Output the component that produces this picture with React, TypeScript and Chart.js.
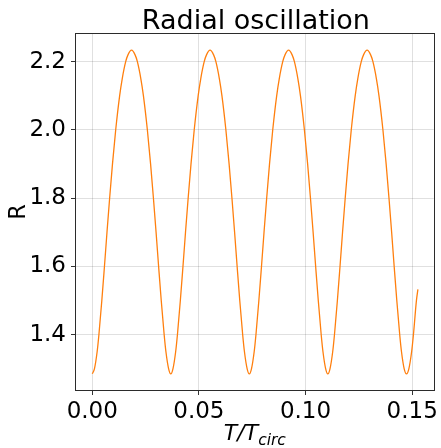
import { useEffect, useRef } from 'react';
import { Chart, registerables } from 'chart.js';

Chart.register(...registerables);

const chartTitle = 'Radial oscillation';
const xTickValues = [0, 0.05, 0.1, 0.15];
const yTickValues = [1.4, 1.6, 1.8, 2.0, 2.2];

// T/T_circ
const times = [
  0.0, 0.00101, 0.00228, 0.00311, 0.00448, 0.00571, 0.0069, 0.00814, 0.00947, 0.01098, 0.01283, 0.01404, 0.01567, 0.01674,
  0.01841, 0.02008, 0.02115, 0.02278, 0.02399, 0.02584, 0.02735, 0.02868, 0.02992, 0.03111, 0.03234, 0.03371, 0.03454, 0.03581,
  0.03682, 0.03783, 0.0391, 0.03993, 0.0413, 0.04253, 0.04372, 0.04496, 0.04629, 0.0478, 0.04965, 0.05086, 0.05249, 0.05356,
  0.05523, 0.0569, 0.05797, 0.0596, 0.06081, 0.06266, 0.06417, 0.0655, 0.06674, 0.06793, 0.06916, 0.07053, 0.07136, 0.07263,
  0.07364, 0.07465, 0.07592, 0.07675, 0.07812, 0.07935, 0.08054, 0.08178, 0.08311, 0.08462, 0.08647, 0.08768, 0.08931, 0.09038,
  0.09205, 0.09372, 0.09479, 0.09642, 0.09763, 0.09948, 0.10099, 0.10232, 0.10356, 0.10475, 0.10598, 0.10735, 0.10818, 0.10945,
  0.11046, 0.11147, 0.11274, 0.11357, 0.11494, 0.11617, 0.11736, 0.1186, 0.11993, 0.12144, 0.12329, 0.1245, 0.12613, 0.1272,
  0.12887, 0.13054, 0.13161, 0.13324, 0.13445, 0.1363, 0.13781, 0.13914, 0.14038, 0.14157, 0.1428, 0.14417, 0.145, 0.14627,
  0.14735, 0.14845, 0.14975, 0.1506, 0.152, 0.1527,
];

// R
const radii = [
  1.2853, 1.3, 1.35, 1.4, 1.5, 1.6, 1.7, 1.8, 1.9, 2.0, 2.1, 2.15, 2.2, 2.22,
  2.2338, 2.22, 2.2, 2.15, 2.1, 2.0, 1.9, 1.8, 1.7, 1.6, 1.5, 1.4, 1.35, 1.3,
  1.2853, 1.3, 1.35, 1.4, 1.5, 1.6, 1.7, 1.8, 1.9, 2.0, 2.1, 2.15, 2.2, 2.22,
  2.2338, 2.22, 2.2, 2.15, 2.1, 2.0, 1.9, 1.8, 1.7, 1.6, 1.5, 1.4, 1.35, 1.3,
  1.2853, 1.3, 1.35, 1.4, 1.5, 1.6, 1.7, 1.8, 1.9, 2.0, 2.1, 2.15, 2.2, 2.22,
  2.2338, 2.22, 2.2, 2.15, 2.1, 2.0, 1.9, 1.8, 1.7, 1.6, 1.5, 1.4, 1.35, 1.3,
  1.2853, 1.3, 1.35, 1.4, 1.5, 1.6, 1.7, 1.8, 1.9, 2.0, 2.1, 2.15, 2.2, 2.22,
  2.2338, 2.22, 2.2, 2.15, 2.1, 2.0, 1.9, 1.8, 1.7, 1.6, 1.5, 1.4, 1.35, 1.3,
  1.2853, 1.3, 1.35, 1.4, 1.5, 1.533,
];

const FONT = '"DejaVu Sans", sans-serif';

export default function App() {
  const ref = useRef<HTMLCanvasElement>(null);

  useEffect(() => {
    const canvas = ref.current;
    if (!canvas) return;

    const decorations = {
      id: 'decorations',
      afterDraw(chart: any) {
        const { ctx, chartArea: a } = chart;
        ctx.save();
        // frame
        ctx.strokeStyle = '#2b2b2b';
        ctx.lineWidth = 1;
        ctx.strokeRect(Math.round(a.left) - 0.5, Math.round(a.top) - 0.5, Math.round(a.right - a.left) + 1, Math.round(a.bottom - a.top) + 1);
        // title
        ctx.fillStyle = '#000';
        ctx.font = `27px ${FONT}`;
        ctx.textAlign = 'center';
        ctx.textBaseline = 'alphabetic';
        ctx.fillText(chartTitle, (a.left + a.right) / 2 + 1, 28.5);
        // x label: T/T_circ
        const cx = (a.left + a.right) / 2;
        ctx.font = `italic 22px ${FONT}`;
        const main = 'T/T';
        const wMain = ctx.measureText(main).width;
        ctx.font = `italic 15.5px ${FONT}`;
        const sub = 'circ';
        const wSub = ctx.measureText(sub).width;
        const start = cx - (wMain + wSub) / 2;
        ctx.textAlign = 'left';
        ctx.font = `italic 22px ${FONT}`;
        ctx.fillText(main, start, 439.5);
        ctx.font = `italic 15.5px ${FONT}`;
        ctx.fillText(sub, start + wMain, 445);
        // y label
        ctx.translate(25, (a.top + a.bottom) / 2);
        ctx.rotate(-Math.PI / 2);
        ctx.textAlign = 'center';
        ctx.font = `22.5px ${FONT}`;
        ctx.fillText('R', 0, 0);
        ctx.restore();
      },
    };

    const gridColor = 'rgba(0,0,0,0.12)';

    const chart = new Chart(canvas, {
      type: 'line',
      data: {
        datasets: [
          {
            data: times.map((t, i) => ({ x: t, y: radii[i] })),
            borderColor: '#ff7f0e',
            borderWidth: 1.3,
            pointRadius: 0,
            fill: false,
            cubicInterpolationMode: 'monotone',
          },
        ],
      },
      options: {
        responsive: false,
        animation: false,
        devicePixelRatio: 1,
        layout: { padding: { top: 34, right: 4, left: 0, bottom: 0 } },
        plugins: { legend: { display: false }, title: { display: false }, tooltip: { enabled: false } },
        scales: {
          x: {
            type: 'linear',
            min: -0.00763,
            max: 0.16013,
            afterBuildTicks: (s: any) => {
              s.ticks = xTickValues.map((v) => ({ value: v }));
            },
            afterFit: (s: any) => {
              s.height = 58;
            },
            ticks: {
              callback: (v: any) => Number(v).toFixed(2),
              font: { size: 23, family: FONT },
              color: '#000',
              padding: 3,
              maxRotation: 0,
              autoSkip: false,
            },
            grid: { color: gridColor, lineWidth: 1, tickLength: 5, tickColor: '#333', tickWidth: 1 },
            border: { display: false },
          },
          y: {
            type: 'linear',
            min: 1.2379,
            max: 2.2812,
            afterBuildTicks: (s: any) => {
              s.ticks = yTickValues.map((v) => ({ value: v }));
            },
            afterFit: (s: any) => {
              s.width = 76;
            },
            ticks: {
              callback: (v: any) => Number(v).toFixed(1),
              font: { size: 23, family: FONT },
              color: '#000',
              padding: 5,
              autoSkip: false,
            },
            grid: { color: gridColor, lineWidth: 1, tickLength: 5, tickColor: '#333', tickWidth: 1 },
            border: { display: false },
          },
        },
      },
      plugins: [decorations],
    } as any);

    return () => chart.destroy();
  }, []);

  return (
    <div style={{ position: 'fixed', left: 0, top: 0, width: 441, height: 448, background: '#fff' }}>
      <canvas ref={ref} width={441} height={448} style={{ display: 'block', width: 441, height: 448 }} />
    </div>
  );
}
